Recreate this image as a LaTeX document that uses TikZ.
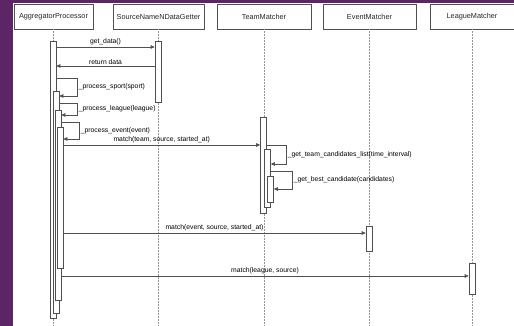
\documentclass[tikz,border=0pt]{standalone}
\usepackage{fontspec}
\setmainfont{Liberation Sans}
\usetikzlibrary{arrows.meta, positioning, calc}
\definecolor{plum}{RGB}{92, 38, 102}
\definecolor{linegray}{RGB}{80, 80, 80}

\begin{document}
\begin{tikzpicture}[x=1pt, y=-1pt,
            head/.style={draw=linegray, line width=0.6pt, minimum height=25pt, inner sep=0pt, font=\fontsize{7.3}{8}\selectfont, text=black!85},
            bar/.style={draw=linegray, fill=white, line width=0.6pt, minimum width=6pt, inner sep=0pt, anchor=north},
            life/.style={linegray!60, densely dotted, line width=0.5pt},
            msg/.style={-{Triangle[length=4pt, width=3.5pt]}, linegray, line width=0.6pt},
            lbl/.style={font=\fontsize{6.8}{7}\selectfont, text=black, inner sep=1.5pt}
        ]
            \useasboundingbox (0,0) rectangle (514,326);
            \fill[plum] (0,0) rectangle (514,326);
            \fill[white] (13,3) rectangle (514,326);

            % lifeline heads
            \node[head, minimum width=79pt] (agg) at (53.5,16.5) {AggregatorProcessor};
            \node[head, minimum width=91pt] (src) at (158.5,16.5) {SourceNameNDataGetter};
            \node[head, minimum width=94pt] (team) at (264,16.5) {TeamMatcher};
            \node[head, minimum width=93pt] (event) at (369.5,16.5) {EventMatcher};
            \node[head, minimum width=84pt] (league) at (472,16.5) {LeagueMatcher};

            \coordinate (bottom) at (0,326);
            \foreach \n in {agg, src, team, event, league}
                \draw[life] (\n.south) -- (\n.south |- bottom);

            % activations
            \node[bar, minimum height=277pt] (agg0) at (53,41) {};
            \node[bar, minimum height=222pt] (agg1) at (56,91) {};
            \node[bar, minimum height=190pt] (agg2) at (58,110) {};
            \node[bar, minimum height=141pt] (agg3) at (60,127) {};
            \node[bar, minimum height=61pt] (srcbar) at (158,41) {};
            \node[bar, minimum height=96pt] (team0) at (263.5,117) {};
            \node[bar, minimum height=58pt] (team1) at (267.5,149) {};
            \node[bar, minimum height=26pt] (team2) at (270.5,176) {};
            \node[bar, minimum height=25pt] (eventbar) at (369,226) {};
            \node[bar, minimum height=31pt] (leaguebar) at (472,263) {};

            % message levels
            \coordinate (getdata) at (0,47);
            \coordinate (retdata) at (0,66);
            \coordinate (sportA) at (77,78);
            \coordinate (sportB) at (77,96);
            \coordinate (leagueA) at (77,103);
            \coordinate (leagueB) at (77,115);
            \coordinate (eventA) at (79,122);
            \coordinate (eventB) at (79,139);
            \coordinate (matchteam) at (0,145);
            \coordinate (candA) at (286,145);
            \coordinate (candB) at (286,164);
            \coordinate (bestA) at (292,171);
            \coordinate (bestB) at (292,189);
            \coordinate (matchevent) at (0,233);
            \coordinate (matchleague) at (0,276);

            \draw[msg] (agg0.east |- getdata) -- node[lbl, above] {get\_data()} (srcbar.west |- getdata);
            \draw[msg] (srcbar.west |- retdata) -- node[lbl, above] {return data} (agg0.east |- retdata);
            \draw[msg] (agg0.east |- sportA) -- (sportA) -- node[lbl, right] {\_process\_sport(sport)} (sportB) -- (agg1.east |- sportB);
            \draw[msg] (agg1.east |- leagueA) -- (leagueA) -- node[lbl, right] {\_process\_league(league)} (leagueB) -- (agg2.east |- leagueB);
            \draw[msg] (agg2.east |- eventA) -- (eventA) -- node[lbl, right] {\_process\_event(event)} (eventB) -- (agg3.east |- eventB);
            \draw[msg] (agg3.east |- matchteam) -- node[lbl, above] {match(team, source, started\_at)} (team0.west |- matchteam);
            \draw[msg] (team0.east |- candA) -- (candA) -- node[lbl, right] {\_get\_team\_candidates\_list(time\_interval)} (candB) -- (team1.east |- candB);
            \draw[msg] (team1.east |- bestA) -- (bestA) -- node[lbl, right] {\_get\_best\_candidate(candidates)} (bestB) -- (team2.east |- bestB);
            \draw[msg] (agg3.east |- matchevent) -- node[lbl, above] {match(event, source, started\_at)} (eventbar.west |- matchevent);
            \draw[msg] (agg2.east |- matchleague) -- node[lbl, above] {match(league, source)} (leaguebar.west |- matchleague);
        \end{tikzpicture}
\end{document}
